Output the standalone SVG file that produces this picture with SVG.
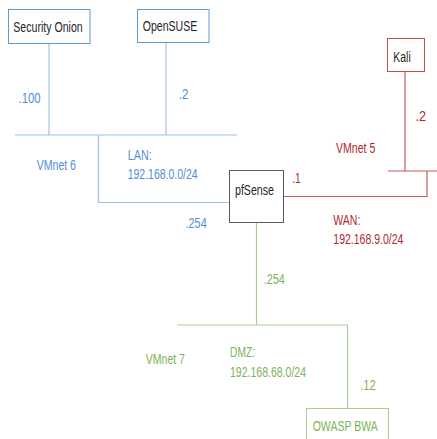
<svg xmlns="http://www.w3.org/2000/svg" width="437" height="439" viewBox="0 0 437 439">
<style>
text{font-family:"Liberation Sans",Arial,sans-serif;font-size:15px;}
.dark{fill:#262626;}
.b{fill:#4F8FD6;}
.r{fill:#B0282F;}
.g{fill:#7DB35B;}
.box{fill:#ffffff;stroke-width:1;}
.lb{stroke:#9DC3E6;fill:none;stroke-width:1.2;}
.lr{stroke:#C65A5C;fill:none;stroke-width:1.2;}
.lg{stroke:#A9D18E;fill:none;stroke-width:1.2;}
</style>
<rect width="437" height="439" fill="#ffffff"/>
<g id="connectors">
<path class="lb" d="M49 43.5V135M166 42.5V135M15 135H237M98.5 135V202.5H229.5"/>
<path class="lr" d="M405 72V171M388 171H437M427 171V196.5H283.5"/>
<path class="lg" d="M256.5 222.5V325M177 325H347.5V408.5"/>
</g>
<g id="security-onion">
<rect class="box" x="8.5" y="9.5" width="81.5" height="34" stroke="#5B9BD5"/>
<text class="dark" x="13.3" y="31.7" textLength="69.4" lengthAdjust="spacingAndGlyphs">Security Onion</text>
</g>
<g id="opensuse">
<rect class="box" x="137.5" y="9.5" width="71.5" height="33" stroke="#5B9BD5"/>
<text class="dark" x="142.7" y="31" textLength="54.6" lengthAdjust="spacingAndGlyphs">OpenSUSE</text>
</g>
<g id="kali">
<rect class="box" x="387.5" y="38.5" width="37" height="33" stroke="#C0504D"/>
<text class="dark" x="393.3" y="61.7" textLength="17.4" lengthAdjust="spacingAndGlyphs">Kali</text>
</g>
<g id="pfsense">
<rect class="box" x="229.5" y="170.5" width="54" height="52" stroke="#595959"/>
<text class="dark" x="235" y="195" textLength="39" lengthAdjust="spacingAndGlyphs">pfSense</text>
</g>
<g id="owasp-bwa">
<rect class="box" x="306.5" y="408.5" width="82" height="40" stroke="#A9D18E"/>
<text class="g" x="312.7" y="430.7" textLength="65" lengthAdjust="spacingAndGlyphs">OWASP BWA</text>
</g>
<g id="labels">
<text class="b" x="18.5" y="102.7" textLength="22.2" lengthAdjust="spacingAndGlyphs">.100</text>
<text class="b" x="178.8" y="99" textLength="9.5" lengthAdjust="spacingAndGlyphs">.2</text>
<text class="b" x="36.7" y="170" textLength="39.3" lengthAdjust="spacingAndGlyphs">VMnet 6</text>
<text class="b" x="127.7" y="160" textLength="24" lengthAdjust="spacingAndGlyphs">LAN:</text>
<text class="b" x="127.7" y="179" textLength="70" lengthAdjust="spacingAndGlyphs">192.168.0.0/24</text>
<text class="b" x="185.5" y="227.7" textLength="21.2" lengthAdjust="spacingAndGlyphs">.254</text>
<text class="r" x="415.5" y="121" textLength="10.5" lengthAdjust="spacingAndGlyphs">.2</text>
<text class="r" x="336" y="152.7" textLength="39.3" lengthAdjust="spacingAndGlyphs">VMnet 5</text>
<text class="r" x="292.2" y="183.3" textLength="8.5" lengthAdjust="spacingAndGlyphs">.1</text>
<text class="r" x="333.3" y="225.3" textLength="27" lengthAdjust="spacingAndGlyphs">WAN:</text>
<text class="r" x="333.3" y="244.3" textLength="70" lengthAdjust="spacingAndGlyphs">192.168.9.0/24</text>
<text class="g" x="263.8" y="284" textLength="20.9" lengthAdjust="spacingAndGlyphs">.254</text>
<text class="g" x="145.7" y="364" textLength="39.3" lengthAdjust="spacingAndGlyphs">VMnet 7</text>
<text class="g" x="230" y="357.3" textLength="25" lengthAdjust="spacingAndGlyphs">DMZ:</text>
<text class="g" x="230" y="376.7" textLength="76" lengthAdjust="spacingAndGlyphs">192.168.68.0/24</text>
<text class="g" x="360.2" y="390" textLength="15.5" lengthAdjust="spacingAndGlyphs">.12</text>
</g>
</svg>
